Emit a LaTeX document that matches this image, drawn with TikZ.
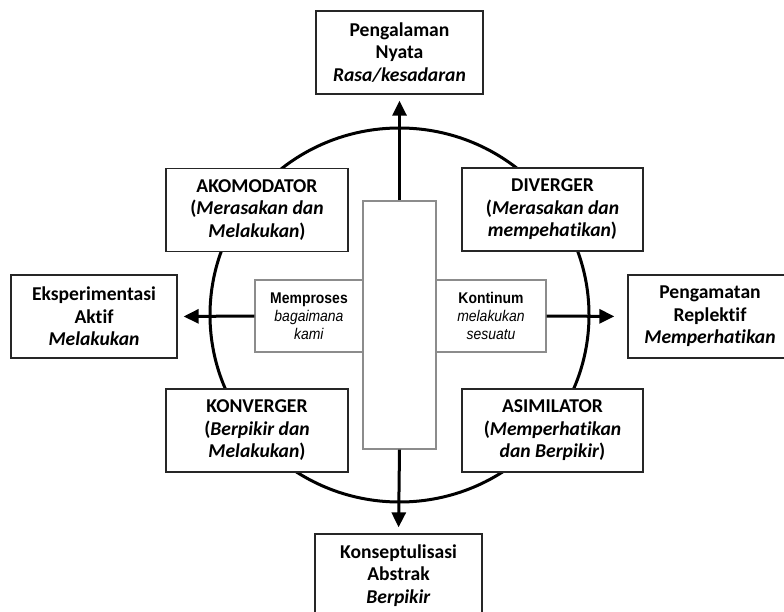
\documentclass[tikz,border=0pt]{standalone}
\usepackage{fontspec}
\setmainfont{Carlito}[Ligatures=NoCommon]
\newfontfamily\arialfont{Liberation Sans}[FakeStretch=0.9]
\usetikzlibrary{arrows.meta}
\newcommand{\boxfont}{\fontsize{19.6}{22.5}\selectfont\bfseries}
\newcommand{\notefont}{\arialfont\fontsize{15.5}{18}\selectfont}

\begin{document}
\begin{tikzpicture}[x=1pt,y=-1pt,
	stylebox/.style={draw=black!85, line width=1.3pt, fill=white, align=center, inner sep=0pt, minimum width=182pt, minimum height=83pt, font=\boxfont},
	polebox/.style={stylebox, minimum width=167pt},
	notebox/.style={draw=black!45, line width=1.2pt, fill=white, align=center, inner sep=0pt, minimum height=72pt, font=\notefont},
	flow/.style={line width=3pt, -{Triangle[length=15pt,width=14pt]}}]
	\clip (0,0) rectangle (784,612);
	\fill[white] (0,0) rectangle (784,612);

	\draw[line width=3pt] (399.5,315) ellipse [x radius=189.5, y radius=187];

	\node[notebox, minimum width=108pt] (proses) at (309,316) {\textbf{Memproses}\\\textit{bagaimana}\\\textit{kami}};
	\node[notebox, minimum width=110pt] (kontinum) at (491,316) {\textbf{Kontinum}\\\textit{melakukan}\\\textit{sesuatu}};
	\node[notebox, minimum width=73pt, minimum height=248pt] (poros) at (399.5,325) {};

	\node[stylebox] (akom) at (257,210) {AKOMODATOR\\(\textit{Merasakan dan}\\\textit{Melakukan})};
	\node[stylebox, minimum width=181pt] (div) at (552.5,209.5) {DIVERGER\\(\textit{Merasakan dan}\\\textit{mempehatikan})};
	\node[stylebox] (konv) at (257,430.5) {KONVERGER\\(\textit{Berpikir dan}\\\textit{Melakukan})};
	\node[stylebox, minimum width=181pt] (asim) at (552.5,430.5) {ASIMILATOR\\(\textit{Memperhatikan}\\\textit{dan Berpikir})};

	\node[polebox] (nyata) at (399.5,52.5) {Pengalaman\\Nyata\\\textit{Rasa/kesadaran}};
	\node[polebox] (abstrak) at (398.5,575.5) {Konseptulisasi\\Abstrak\\\textit{Berpikir}};
	\node[polebox, minimum width=166pt] (aktif) at (94,316.5) {Eksperimentasi\\Aktif\\\textit{Melakukan}};
	\node[polebox, minimum width=164pt] (replektif) at (710,316.5) {Pengamatan\\Replektif\\\textit{Memperhatikan}};

	\draw[flow, shorten >=6pt] (poros.north) -- (nyata.south);
	\draw[flow, shorten >=6pt] (poros.south) -- (abstrak.north);
	\draw[flow, shorten >=6pt] (proses.west) -- (aktif.east);
	\draw[flow, shorten >=13pt] (kontinum.east) -- (replektif.west);
\end{tikzpicture}
\end{document}
